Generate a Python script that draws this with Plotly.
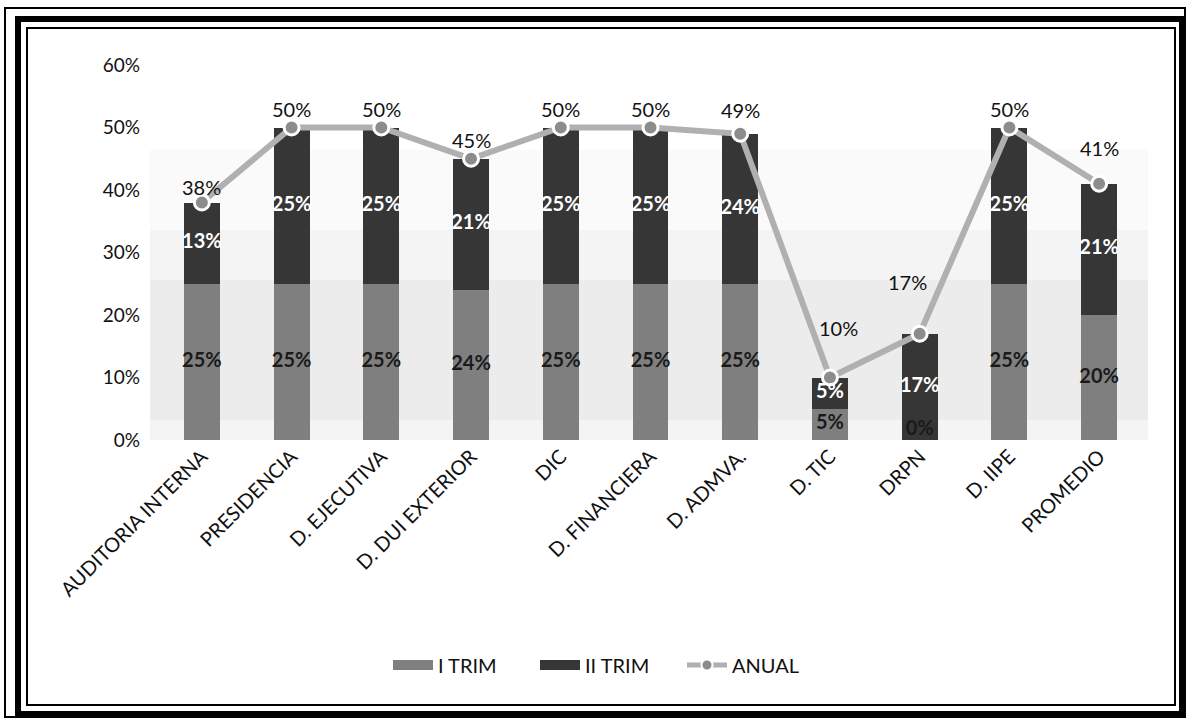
import plotly.graph_objects as go

categories = ["AUDITORIA INTERNA", "PRESIDENCIA", "D. EJECUTIVA", "D. DUI EXTERIOR", "DIC",
              "D. FINANCIERA", "D. ADMVA.", "D. TIC", "DRPN", "D. IIPE", "PROMEDIO"]
i_trim = [0.25, 0.25, 0.25, 0.24, 0.25, 0.25, 0.25, 0.05, 0.00, 0.25, 0.20]
ii_trim = [0.13, 0.25, 0.25, 0.21, 0.25, 0.25, 0.24, 0.05, 0.17, 0.25, 0.21]
anual = [0.38, 0.50, 0.50, 0.45, 0.50, 0.50, 0.49, 0.10, 0.17, 0.50, 0.41]
y_ticks = [0, 0.1, 0.2, 0.3, 0.4, 0.5, 0.6]

# label offsets (pixels) for the ANUAL labels, as moved in the original
anual_yshift = [16, 19, 19, 19, 19, 19, 24, 50, 52, 19, 36]
anual_xshift = [0, 0, 0, 0, 0, 0, 0, 9, -12, 0, 0]

FONT = "Lato"
W, H = 1187, 721
L, R, T, B = 157, 43, 65, 281
PW, PH = W - L - R, H - T - B

C_I = "#7f7f7f"
C_II = "#363636"
C_LINE = "#b0b0b0"

fig = go.Figure()
fig.add_trace(go.Bar(
    x=categories, y=i_trim, name="I TRIM", showlegend=False,
    marker=dict(color=C_I, line=dict(width=0)),
))
fig.add_trace(go.Bar(
    x=categories, y=ii_trim, name="II TRIM", showlegend=False,
    marker=dict(color=C_II, line=dict(width=0)),
))
fig.add_trace(go.Scatter(
    x=categories, y=anual, name="ANUAL", mode="lines+markers", showlegend=False,
    line=dict(color=C_LINE, width=6),
    marker=dict(size=15, color="#8c8c8c", line=dict(color="white", width=3)),
))

# legend entries (wide swatches like the original)
fig.add_trace(go.Scatter(x=[None], y=[None], mode="lines", name="I TRIM",
                         line=dict(color=C_I, width=11)))
fig.add_trace(go.Scatter(x=[None], y=[None], mode="lines", name="II TRIM",
                         line=dict(color=C_II, width=11)))
fig.add_trace(go.Scatter(x=[None], y=[None], mode="lines+markers", name="ANUAL",
                         line=dict(color=C_LINE, width=5),
                         marker=dict(size=11, color="#8c8c8c", line=dict(color="white", width=2))))

# segment labels, positioned from the data through the axes
fig.add_trace(go.Scatter(
    x=categories, y=[v / 2 for v in i_trim], mode="text",
    text=[f"{v*100:.0f}%" for v in i_trim],
    textposition=["top center" if v == 0 else "middle center" for v in i_trim],
    textfont=dict(family=FONT, size=20, color="#1a1a1a", weight="bold"),
    showlegend=False, hoverinfo="skip",
))
fig.add_trace(go.Scatter(
    x=categories, y=[a + b / 2 for a, b in zip(i_trim, ii_trim)], mode="text",
    text=[f"{v*100:.0f}%" for v in ii_trim], textposition="middle center",
    textfont=dict(family=FONT, size=20, color="white", weight="bold"),
    showlegend=False, hoverinfo="skip",
))

for c, v, ys, xs in zip(categories, anual, anual_yshift, anual_xshift):
    fig.add_annotation(x=c, y=v, text=f"{v*100:.0f}%", showarrow=False,
                       yshift=ys, xshift=xs,
                       font=dict(family=FONT, size=20, color="#111111"))

def px(x):
    return (x - L) / PW

def py(y):
    return (T + PH - y) / PH

# light halftone-like background, denser towards the middle/bottom
for y_top, y_bot, a in [(150, 440, 0.02), (230, 440, 0.025), (280, 420, 0.03)]:
    fig.add_shape(type="rect", xref="paper", yref="paper", layer="below",
                  x0=px(150), x1=px(1148), y0=py(y_bot), y1=py(y_top),
                  fillcolor=f"rgba(0,0,0,{a})", line=dict(width=0))
# frames
fig.add_shape(type="rect", xref="paper", yref="paper",
              x0=px(5), x1=px(1185), y0=py(717), y1=py(8),
              line=dict(color="black", width=2), fillcolor="rgba(0,0,0,0)")
fig.add_shape(type="rect", xref="paper", yref="paper",
              x0=px(18), x1=px(1182), y0=py(714), y1=py(19),
              line=dict(color="black", width=6), fillcolor="rgba(0,0,0,0)")
fig.add_shape(type="rect", xref="paper", yref="paper",
              x0=px(27), x1=px(1175), y0=py(705), y1=py(28),
              line=dict(color="black", width=2), fillcolor="rgba(0,0,0,0)")

fig.update_layout(
    width=W, height=H,
    margin=dict(l=L, r=R, t=T, b=B, autoexpand=False),
    barmode="stack", bargap=0.6,
    paper_bgcolor="white", plot_bgcolor="white",
    font=dict(family=FONT, size=20, color="#111111"),
    legend=dict(orientation="h", x=px(388), xanchor="left", y=py(665), yanchor="middle",
                font=dict(family=FONT, size=20, color="#111111"),
                entrywidth=92, entrywidthmode="pixels",
                itemwidth=40, traceorder="normal", bgcolor="rgba(0,0,0,0)"),
    xaxis=dict(tickangle=-45, showline=False, ticks="", showgrid=False, automargin=False,
               range=[-0.5, len(categories) - 0.5],
               tickfont=dict(family=FONT, size=20, color="#111111")),
    yaxis=dict(range=[0, 0.6], tickvals=y_ticks, tickformat=".0%", showgrid=False,
               zeroline=False, showline=False, ticks="", ticklabelstandoff=16, automargin=False,
               tickfont=dict(family=FONT, size=19, color="#111111")),
)

fig.write_html("out.html", post_script="document.body.style.margin='0';",
               config={"displayModeBar": False})
